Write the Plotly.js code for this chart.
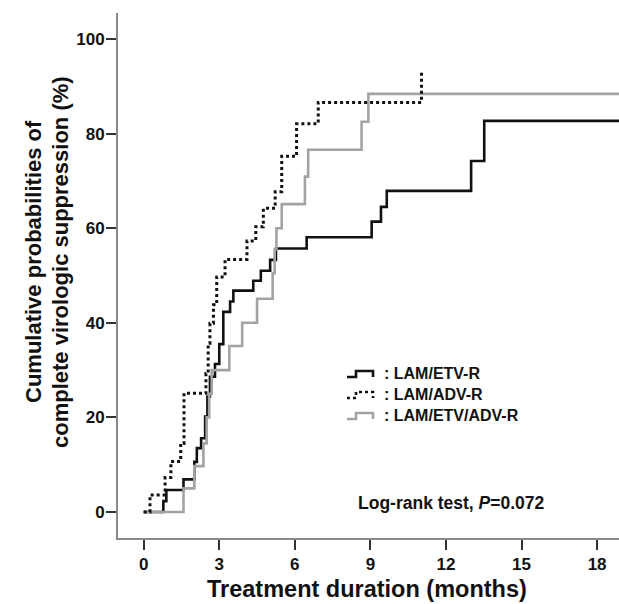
<!DOCTYPE html>
<html>
<head>
<meta charset="utf-8">
<script src="https://cdn.plot.ly/plotly-3.0.1.min.js"></script>
<style>html,body{margin:0;padding:0;background:#fff;}#chart{width:619px;height:604px;}</style>
</head>
<body>
<div id="chart"></div>
<script>
// ---- data ----
const etvMonths = [0, 0.78, 0.9, 1.58, 2.01, 2.11, 2.28, 2.44, 2.53, 2.63, 2.83, 3.0, 3.16, 3.43, 3.56, 4.35, 4.65, 5.02, 5.25, 6.47, 9.05, 9.42, 9.65, 13.0, 13.52, 19];
const etvPct    = [0, 2.3, 4.65, 6.9, 10.6, 13.5, 15.6, 20.2, 24.4, 28.6, 31.3, 35.5, 42.3, 44.5, 46.8, 48.9, 51.0, 53.3, 55.7, 58.1, 61.4, 64.5, 67.9, 74.2, 82.7, 82.7];

const advMonths = [0, 0.25, 0.85, 1.08, 1.47, 1.6, 2.47, 2.56, 2.63, 2.77, 2.9, 3.23, 4.1, 4.45, 4.75, 5.22, 5.48, 6.07, 6.93, 11.03];
const advPct    = [0, 3.6, 7.3, 10.7, 14.5, 25.1, 29.3, 35.7, 39.9, 43.8, 49.7, 53.4, 57.3, 60.3, 64.2, 67.7, 75.2, 82.1, 86.6, 93.4];

const bothMonths = [0, 1.58, 2.01, 2.37, 2.5, 2.6, 2.7, 3.4, 3.91, 4.5, 5.12, 5.2, 5.27, 5.48, 6.4, 6.53, 8.65, 8.92, 19];
const bothPct    = [0, 5.0, 9.7, 14.5, 20.0, 25.0, 30.0, 35.1, 40.0, 45.1, 50.5, 55.5, 60.0, 65.1, 70.9, 76.6, 82.5, 88.4, 88.4];

const groupNames = [": LAM/ETV-R", ": LAM/ADV-R", ": LAM/ETV/ADV-R"];
const xTicks = [0, 3, 6, 9, 12, 15, 18];
const yTicks = [0, 20, 40, 60, 80, 100];
const xTitle = "Treatment duration (months)";
const yTitleLines = ["Cumulative probabilities of", "complete virologic suppression (%)"];
const testText = "Log-rank test, <i>P</i>=0.072";

// ---- geometry helpers (plot area in pixels) ----
const L = 118, R = 619, T = 13, B = 538;
const px = x => (x - L) / (R - L);
const py = y => (B - y) / (B - T);

const FONT = "Arial, 'Liberation Sans', sans-serif";

const traces = [
  {x: etvMonths, y: etvPct, mode: 'lines', line: {shape: 'hv', color: '#111', width: 2.6}, name: groupNames[0], showlegend: false, hoverinfo: 'skip'},
  {x: bothMonths, y: bothPct, mode: 'lines', line: {shape: 'hv', color: '#a3a3a3', width: 2.6}, name: groupNames[2], showlegend: false, hoverinfo: 'skip'},
  {x: advMonths, y: advPct, mode: 'lines', line: {shape: 'hv', color: '#111', width: 3, dash: 'dot'}, name: groupNames[1], showlegend: false, hoverinfo: 'skip'}
];

// legend step symbols
const legendRows = [373, 394, 415];
const legendColors = ['#111', '#111', '#a3a3a3'];
const legendDash = ['solid', 'dot', 'solid'];
const shapes = legendRows.map((yc, i) => {
  const y0 = yc + 4, y1 = yc - 2;
  const p = `M ${px(347)},${py(y0)} L ${px(356)},${py(y0)} L ${px(356)},${py(y1)} L ${px(373)},${py(y1)} L ${px(373)},${py(y0)}`;
  return {type: 'path', xref: 'paper', yref: 'paper', path: p,
          line: {color: legendColors[i], width: 2.6, dash: legendDash[i]}};
});

const annotations = legendRows.map((yc, i) => ({
  xref: 'paper', yref: 'paper', x: px(382), y: py(yc), xanchor: 'left', yanchor: 'middle',
  text: groupNames[i], showarrow: false,
  font: {family: FONT, size: 16, color: '#111', weight: 'bold'}
}));

annotations.push({
  xref: 'paper', yref: 'paper', x: px(356), y: py(503), xanchor: 'left', yanchor: 'middle',
  text: testText, showarrow: false, font: {family: FONT, size: 17.5, color: '#111', weight: 'bold'}
});
annotations.push({
  xref: 'paper', yref: 'paper', x: px(367), y: py(589), xanchor: 'center', yanchor: 'middle',
  text: xTitle, showarrow: false, font: {family: FONT, size: 23.5, color: '#111', weight: 'bold'}
});
[33, 60].forEach((xc, i) => annotations.push({
  xref: 'paper', yref: 'paper', x: px(xc), y: py(262), xanchor: 'center', yanchor: 'middle',
  text: yTitleLines[i], showarrow: false, textangle: -90,
  font: {family: FONT, size: 22, color: '#111', weight: 'bold'}
}));

const tickFont = {family: FONT, size: 17, color: '#111', weight: 'bold'};

const layout = {
  width: 619, height: 604,
  margin: {l: L, r: 619 - R, t: T, b: 604 - B, pad: 0},
  paper_bgcolor: '#fff', plot_bgcolor: '#fff',
  showlegend: false,
  xaxis: {
    range: [-1.02, 18.87], tickvals: xTicks, ticktext: xTicks.map(String),
    ticks: 'outside', ticklen: 10, tickwidth: 2, tickcolor: '#333',
    showline: true, linecolor: '#8a8a8a', linewidth: 2,
    showgrid: false, zeroline: false, tickfont: tickFont, fixedrange: true
  },
  yaxis: {
    range: [-5.5, 105.5], tickvals: yTicks, ticktext: yTicks.map(String),
    ticks: 'outside', ticklen: 10, tickwidth: 2, tickcolor: '#333',
    showline: true, linecolor: '#8a8a8a', linewidth: 2,
    showgrid: false, zeroline: false, tickfont: tickFont, fixedrange: true,
    ticklabelstandoff: -2
  },
  shapes: shapes,
  annotations: annotations
};

Plotly.newPlot('chart', traces, layout, {staticPlot: true, displayModeBar: false});
</script>
</body>
</html>
